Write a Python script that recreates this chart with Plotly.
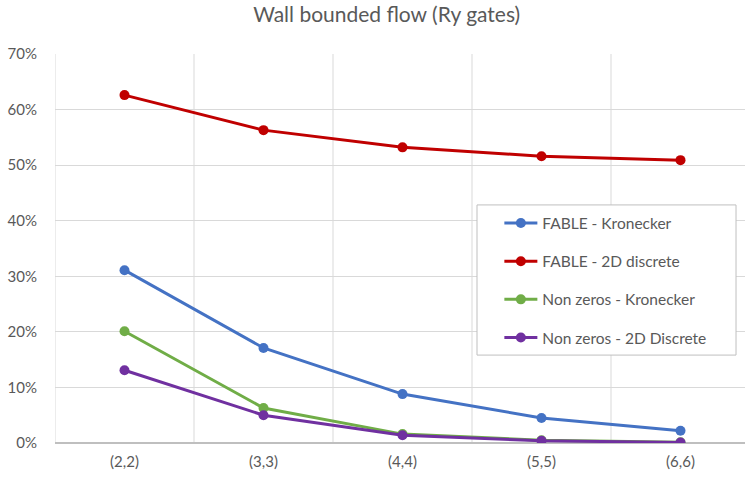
import plotly.graph_objects as go

categories = ["(2,2)", "(3,3)", "(4,4)", "(5,5)", "(6,6)"]
fable_kron = [0.311, 0.171, 0.088, 0.045, 0.022]
fable_2d = [0.626, 0.563, 0.532, 0.516, 0.509]
nz_kron = [0.201, 0.063, 0.016, 0.005, 0.0015]
nz_2d = [0.131, 0.050, 0.014, 0.004, 0.001]
series_names = ["FABLE - Kronecker", "FABLE - 2D discrete",
                "Non zeros - Kronecker", "Non zeros - 2D Discrete"]
series_values = [fable_kron, fable_2d, nz_kron, nz_2d]
colors = ["#4472C4", "#C00000", "#70AD47", "#7030A0"]
y_ticks = [0, 0.1, 0.2, 0.3, 0.4, 0.5, 0.6, 0.7]

FONT = "Lato"
TXT = "#595959"

fig = go.Figure()
xs = list(range(len(categories)))
for i, (name, vals, c) in enumerate(zip(series_names, series_values, colors)):
    fig.add_trace(go.Scatter(
        x=xs, y=vals, name=name, mode="lines+markers",
        line=dict(color=c, width=3), marker=dict(color=c, size=10),
        legendgroup=str(i),
    ))

# vertical gridlines between categories (Excel style)
for k in range(len(categories) + 1):
    fig.add_shape(type="line", xref="x", yref="paper", x0=k - 0.5, x1=k - 0.5,
                  y0=0, y1=1, line=dict(color="#D9D9D9", width=1), layer="below")

# legend frame
fig.add_shape(type="rect", xref="paper", yref="paper",
              x0=0.6116, x1=0.987, y0=0.226, y1=0.612,
              line=dict(color="#BFBFBF", width=1), fillcolor="white",
              layer="above")

fig.update_layout(
    width=745, height=481,
    margin=dict(l=55, r=0, t=54, b=38),
    paper_bgcolor="white", plot_bgcolor="white",
    title=dict(text="Wall bounded flow (Ry gates)", x=0.519, y=0.969,
               xanchor="center", yanchor="middle",
               font=dict(family=FONT, size=21, color=TXT)),
    font=dict(family=FONT, size=15, color=TXT),
    showlegend=True,
    legend=dict(x=0.644, y=0.608, xanchor="left", yanchor="top",
                bgcolor="rgba(0,0,0,0)", borderwidth=0,
                font=dict(family=FONT, size=15.5, color=TXT),
                traceorder="grouped", tracegroupgap=15,
                itemwidth=33),
    xaxis=dict(range=[-0.5, 4.464], tickvals=xs, ticktext=categories,
               showgrid=False, zeroline=False, showline=False,
               ticks="", ticklabelstandoff=8,
               tickfont=dict(family=FONT, size=15, color=TXT)),
    yaxis=dict(range=[0, 0.7], tickvals=y_ticks, tickformat=".0%",
               showgrid=True, gridcolor="#D9D9D9", gridwidth=1,
               zeroline=True, zerolinecolor="#BFBFBF", zerolinewidth=1.5,
               showline=False, ticks="", ticklabelstandoff=17,
               tickfont=dict(family=FONT, size=15, color=TXT)),
)

fig.write_html("out.html")
